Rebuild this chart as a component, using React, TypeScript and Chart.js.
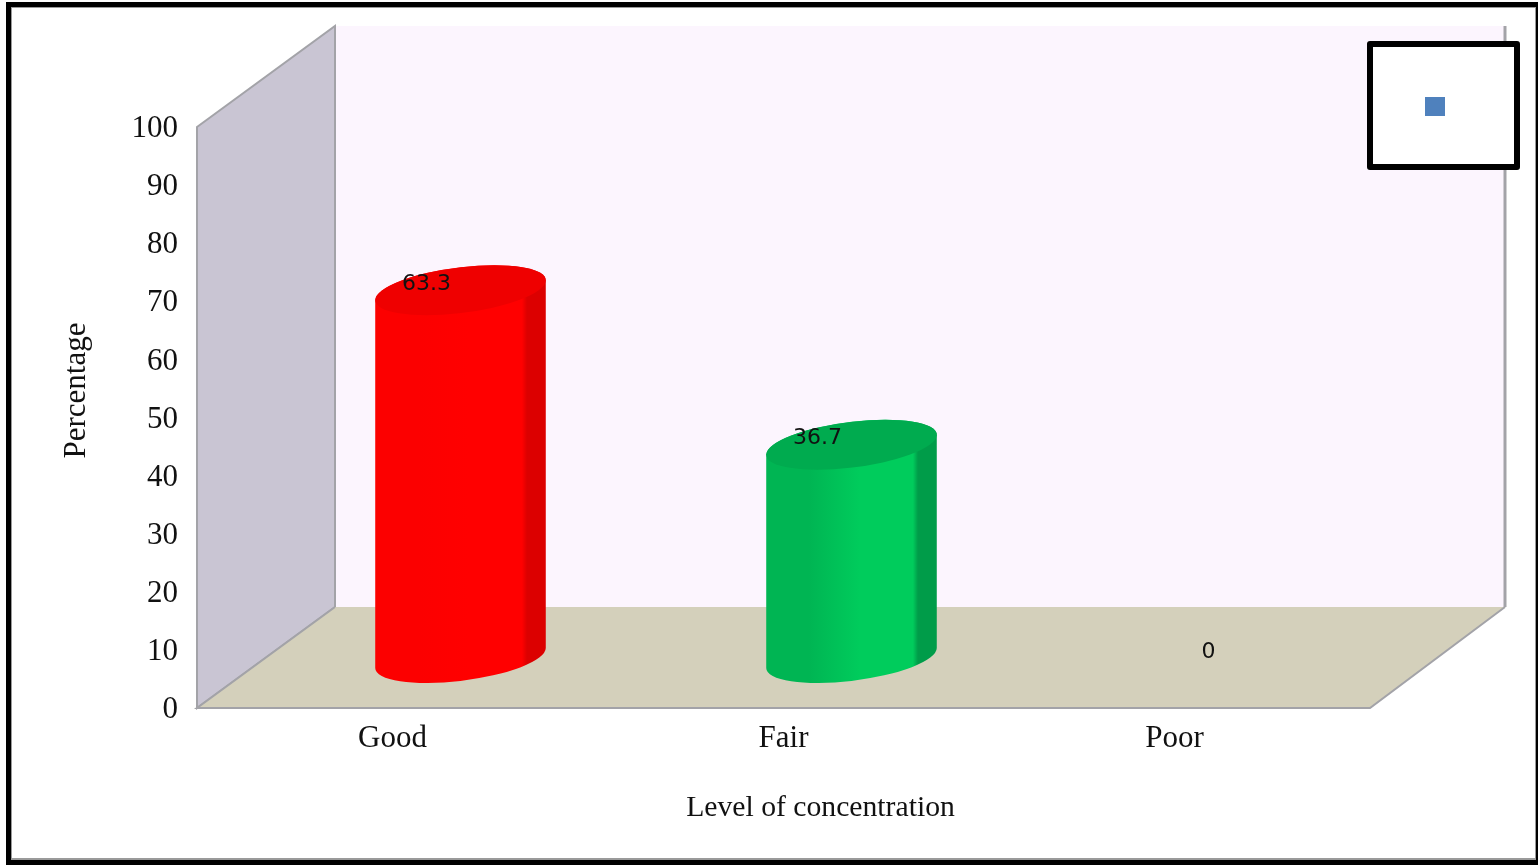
import React, { useEffect, useRef } from "react";
import { Chart, registerables } from "chart.js";

Chart.register(...registerables);

const categories = ["Good", "Fair", "Poor"];
const percentages = [63.3, 36.7, 0];
const valueLabels = ["63.3", "36.7", "0"];
const barColors = ["#ff0000", "#00cc5c", "#4f81bd"];
const barShadeLeft = ["#fc0000", "#00b553", "#4f81bd"];
const barShadeRight = ["#dc0000", "#009c49", "#4f81bd"];
const barTopColors = ["#ef0000", "#00ab4f", "#4f81bd"];
const yTicks = [0, 10, 20, 30, 40, 50, 60, 70, 80, 90, 100];
const yTitle = "Percentage";
const xTitle = "Level of concentration";

const SERIF = '"Liberation Serif", "Times New Roman", serif';
const EDGE = "#a3a3a8";

const nudge = (chart: any, scale: any, method: string, dx: number, dy: number) => {
  const original = scale[method];
  scale[method] = function (...args: any[]) {
    chart.ctx.save();
    chart.ctx.translate(dx, dy);
    original.apply(this, args);
    chart.ctx.restore();
  };
};

const scene3d = {
  id: "scene3d",
  beforeDraw(chart: any) {
    const { ctx, chartArea: a } = chart;
    const W = chart.width, H = chart.height;
    const dxL = 138, dxR = 135, dy = 101;
    ctx.save();
    // page and frame
    ctx.fillStyle = "#ffffff";
    ctx.fillRect(0, 0, W, H);
    ctx.fillStyle = "#000000";
    ctx.fillRect(6, 2, W - 6, H - 2);
    ctx.fillStyle = "#9a9a9a";
    ctx.fillRect(11, 7, W - 13, H - 12);
    ctx.fillStyle = "#ffffff";
    ctx.fillRect(12, 8, W - 15, H - 15);

    // back wall
    ctx.fillStyle = "#fcf5fe";
    ctx.fillRect(a.left + dxL, a.top - dy, a.right + dxR - a.left - dxL, a.bottom - a.top);
    ctx.strokeStyle = EDGE;
    ctx.lineWidth = 3;
    ctx.beginPath();
    ctx.moveTo(a.right + dxR, a.top - dy);
    ctx.lineTo(a.right + dxR, a.bottom - dy);
    ctx.stroke();

    // side wall
    ctx.lineWidth = 2;
    ctx.fillStyle = "#c9c5d3";
    ctx.beginPath();
    ctx.moveTo(a.left, a.top);
    ctx.lineTo(a.left + dxL, a.top - dy);
    ctx.lineTo(a.left + dxL, a.bottom - dy);
    ctx.lineTo(a.left, a.bottom);
    ctx.closePath();
    ctx.fill();
    ctx.stroke();

    // floor
    ctx.fillStyle = "#d4d0bb";
    ctx.beginPath();
    ctx.moveTo(a.left, a.bottom);
    ctx.lineTo(a.left + dxL, a.bottom - dy);
    ctx.lineTo(a.right + dxR, a.bottom - dy);
    ctx.lineTo(a.right, a.bottom);
    ctx.closePath();
    ctx.fill();
    ctx.beginPath();
    ctx.moveTo(a.left + dxL, a.bottom - dy);
    ctx.lineTo(a.left, a.bottom);
    ctx.lineTo(a.right, a.bottom);
    ctx.lineTo(a.right + dxR, a.bottom - dy);
    ctx.stroke();
    ctx.restore();
  },
  // the flat bar is replaced by a cylinder in afterDatasetsDraw
  beforeDatasetDraw() {
    return false;
  },
  afterDatasetsDraw(chart: any) {
    const { ctx } = chart;
    const meta = chart.getDatasetMeta(0);
    meta.data.forEach((bar: any, i: number) => {
      const ox = 68, oy = 50; // half of the floor depth
      const value = percentages[i];
      const cx = bar.x + ox;
      const ux = bar.width / 2, vx = 34, vy = -25;
      if (value > 0) {
        const topY = bar.y - oy, baseY = bar.base - oy;
        const t0 = Math.atan2(vx, ux);
        const r = Math.hypot(ux, vx);
        const ring = (cy: number, from: number, to: number) => {
          ctx.save();
          ctx.transform(ux, 0, vx, vy, cx, cy);
          ctx.arc(0, 0, 1, from, to);
          ctx.restore();
        };
        // body
        const g = ctx.createLinearGradient(cx - r, 0, cx + r, 0);
        g.addColorStop(0, barShadeLeft[i]);
        g.addColorStop(0.25, barShadeLeft[i]);
        g.addColorStop(0.55, barColors[i]);
        g.addColorStop(0.86, barColors[i]);
        g.addColorStop(0.89, barShadeRight[i]);
        g.addColorStop(1, barShadeRight[i]);
        ctx.fillStyle = g;
        ctx.beginPath();
        ring(topY, t0, t0 + Math.PI);
        ring(baseY, t0 + Math.PI, t0 + 2 * Math.PI);
        ctx.closePath();
        ctx.fill();
        // lid
        ctx.fillStyle = barTopColors[i];
        ctx.beginPath();
        ring(topY, 0, 2 * Math.PI);
        ctx.closePath();
        ctx.fill();
      }
      // value label
      ctx.save();
      ctx.fillStyle = "#111111";
      ctx.font = '22px "DejaVu Sans"';
      ctx.textAlign = "center";
      ctx.textBaseline = "middle";
      ctx.fillText(valueLabels[i], bar.x + 34, bar.y - 56);
      ctx.restore();
    });

    // legend box
    const box = { x: 1370, y: 44, w: 147, h: 123 };
    ctx.save();
    ctx.fillStyle = "#ffffff";
    ctx.strokeStyle = "#000000";
    ctx.lineWidth = 6;
    ctx.lineJoin = "round";
    ctx.fillRect(box.x, box.y, box.w, box.h);
    ctx.strokeRect(box.x, box.y, box.w, box.h);
    ctx.fillStyle = barColors[2];
    ctx.fillRect(box.x + 55, box.y + 53, 20, 19);
    ctx.restore();
  },
  afterLayout(chart: any) {
    // the titles and tick labels sit slightly off the library's default places
    const { x, y } = chart.scales;
    if (!x.__nudged) {
      x.__nudged = true;
      nudge(chart, x, "drawTitle", 37, 0);
      nudge(chart, y, "drawTitle", 0, -27);
      nudge(chart, y, "drawLabels", 0, 2);
    }
  },
};

export default function App() {
  const ref = useRef<HTMLCanvasElement>(null);
  useEffect(() => {
    document.body.style.margin = "0";
    document.body.style.background = "#ffffff";
    const chart = new Chart(ref.current!, {
      type: "bar",
      data: {
        labels: categories,
        datasets: [
          {
            label: "Percentage",
            data: percentages,
            backgroundColor: barColors,
            barPercentage: 0.4,
            categoryPercentage: 1,
          },
        ],
      },
      options: {
        responsive: false,
        animation: false,
        layout: { padding: { top: 127, right: 168, left: 0, bottom: 0 } },
        plugins: {
          legend: { display: false },
          title: { display: false },
          tooltip: { enabled: false },
        },
        scales: {
          x: {
            grid: { display: false },
            border: { display: false },
            afterFit(s: any) {
              s.height = 157;
            },
            ticks: {
              color: "#111111",
              font: { family: SERIF, size: 31 },
              padding: 4,
            },
            title: {
              display: true,
              text: xTitle,
              color: "#111111",
              font: { family: SERIF, size: 29.7 },
              padding: { top: 0, bottom: 39 },
            },
          },
          y: {
            min: 0,
            max: 100,
            grid: { display: false, drawTicks: false },
            border: { display: false },
            afterFit(s: any) {
              s.width = 197;
            },
            afterBuildTicks(s: any) {
              s.ticks = yTicks.map((value) => ({ value }));
            },
            ticks: {
              color: "#111111",
              font: { family: SERIF, size: 31 },
              padding: 19,
            },
            title: {
              display: true,
              text: yTitle,
              color: "#111111",
              font: { family: SERIF, size: 31 },
              padding: { top: 58, bottom: 0 },
            },
          },
        },
      },
      plugins: [scene3d],
    } as any);
    return () => chart.destroy();
  }, []);
  return <canvas ref={ref} width={1538} height={865} style={{ display: "block" }} />;
}
